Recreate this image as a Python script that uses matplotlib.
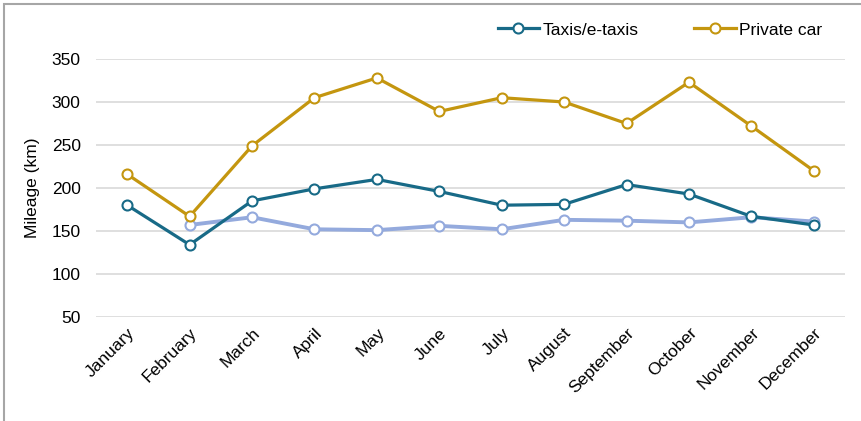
import numpy as np
import matplotlib.pyplot as plt
from matplotlib.patches import Rectangle

plt.rcParams['font.family'] = ['Liberation Sans', 'DejaVu Sans']

months = ['January', 'February', 'March', 'April', 'May', 'June', 'July',
          'August', 'September', 'October', 'November', 'December']
taxis = [180, 134, 185, 199, 210, 196, 180, 181, 204, 193, 167, 157]
private_car = [216, 167, 249, 305, 328, 289, 305, 300, 275, 323, 272, 220]
# third series, no legend entry, starts in February
other = [np.nan, 157, 166, 152, 151, 156, 152, 163, 162, 160, 166, 161]
yticks = [50, 100, 150, 200, 250, 300, 350]

teal = '#186A87'
gold = '#C4960F'
light_blue = '#94AADD'

fig = plt.figure(figsize=(8.62, 4.21), dpi=100)
ax = fig.add_axes([96 / 862, 1 - 317 / 421, (845 - 96) / 862, (317 - 59) / 421])

# outer frame (only left and top visible in reference)
fig.patches.append(Rectangle((4 / 862, -0.1), 1.2, 1 - 4 / 421 + 0.1,
                             transform=fig.transFigure, fill=False,
                             edgecolor='#A6A6A6', linewidth=1.5))

x = np.arange(len(months))
mk = dict(marker='o', markersize=7.2, markerfacecolor='white', markeredgewidth=1.5)
ax.plot(x, other, color=light_blue, linewidth=2.8, markeredgecolor=light_blue, zorder=3, **mk)
ax.plot(x, taxis, color=teal, linewidth=2.3, markeredgecolor=teal, label='Taxis/e-taxis', zorder=4, **mk)
ax.plot(x, private_car, color=gold, linewidth=2.3, markeredgecolor=gold, label='Private car', zorder=4, **mk)

ax.set_xlim(-0.5, len(months) - 0.5)
ax.set_ylim(50, 350)
ax.set_yticks(yticks)
ax.set_xticks(x)
ax.set_xticklabels(months, rotation=45, ha='right', rotation_mode='anchor')
ax.tick_params(axis='both', length=0, labelsize=12.5, colors='#000000')
ax.tick_params(axis='y', pad=11)
ax.tick_params(axis='x', pad=6)
ax.grid(axis='y', color='#D9D9D9', linewidth=1.2)
ax.set_axisbelow(True)
for s in ax.spines.values():
    s.set_visible(False)

ax.set_ylabel('Mileage (km)', fontsize=12.5, labelpad=8)

ax.legend(loc='center', bbox_to_anchor=(660 / 862, 1 - 30 / 421),
          bbox_transform=fig.transFigure, ncol=2, frameon=False,
          fontsize=12.5, handlelength=2.4, columnspacing=3.2, handletextpad=0.2)

fig.savefig('out.png', dpi=100)
